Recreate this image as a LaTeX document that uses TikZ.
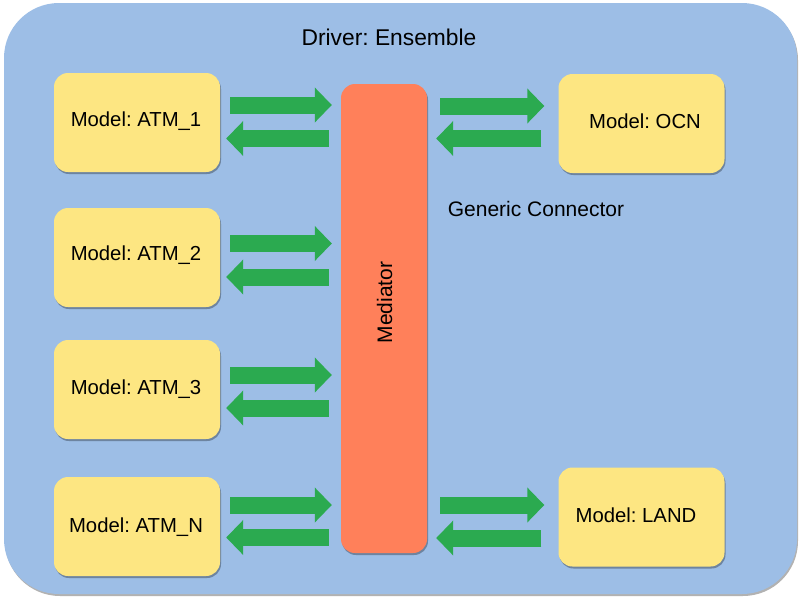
\documentclass[tikz,border=0pt]{standalone}
\usepackage{fontspec}
\setmainfont{Liberation Sans}
\usetikzlibrary{arrows.meta,shadows,calc}
\definecolor{bgblue}{RGB}{157,190,230}
\definecolor{boxyellow}{RGB}{253,230,130}
\definecolor{medorange}{RGB}{255,128,90}
\definecolor{arrgreen}{RGB}{43,170,80}
\frenchspacing
\tikzset{
  shadowed/.style={drop shadow={opacity=0.3, shadow xshift=1pt, shadow yshift=-2pt, fill=black}},
  framebox/.style={fill=bgblue, rounded corners=55pt, minimum width=793pt, minimum height=591pt, inner sep=0pt, shadowed},
  modelbox/.style={fill=boxyellow, rounded corners=14pt, minimum width=166pt, minimum height=99pt, inner sep=0pt, shadowed},
  medbox/.style={fill=medorange, rounded corners=14pt, minimum width=86pt, minimum height=469pt, inner sep=0pt, shadowed},
  lbl/.style={inner sep=0pt, anchor=base, font=\fontsize{20.3pt}{24pt}\selectfont},
  fwd/.style={draw=arrgreen, line width=17pt, -{Triangle[length=17pt,width=34pt]}}
}
\begin{document}
\begin{tikzpicture}[x=1pt,y=-1pt]
\useasboundingbox (0,0) rectangle (800,600);
\node[framebox] (driver) at (400.5,298.5) {};
\node[lbl, font=\fontsize{22.8pt}{26pt}\selectfont] (drvlbl) at (389,45) {Driver: Ensemble};
\node[lbl, font=\fontsize{21pt}{25pt}\selectfont] (genlbl) at (536,216) {Generic Connector};

\node[modelbox] (a1) at (137,122.5) {};
\node[modelbox] (a2) at (137,257.5) {};
\node[modelbox] (a3) at (137,389.5) {};
\node[modelbox] (aN) at (137,526.5) {};
\node[modelbox] (ocn) at (641.5,123.5) {};
\node[modelbox] (land) at (641.5,517) {};
\node[medbox] (med) at (384,318.5) {};

\node[lbl] (t1) at (136,126) {Model: ATM\_1};
\node[lbl] (t2) at (136,260) {Model: ATM\_2};
\node[lbl] (t3) at (136,394) {Model: ATM\_3};
\node[lbl] (tN) at (136,532.5) {Model: ATM\_N};
\node[lbl] (tO) at (645,128) {Model: OCN};
\node[lbl] (tL) at (636,522) {Model: LAND};
\node[lbl, font=\fontsize{21pt}{25pt}\selectfont, rotate=90] (medlbl) at (392,302.5) {Mediator};

\foreach \n/\r/\l in {a1/17.5/16, a2/14/19.5, a3/14.5/18.5, aN/21.5/11}{
  \path ($(\n.east)+(10,-\r)$) coordinate (s);
  \draw[fwd] (s) -- ($(s -| med.west)+(-9,0)$);
  \path ($(\n.east)+(6,\l)$) coordinate (e);
  \draw[fwd] ($(e -| med.west)+(-12,0)$) -- (e);
}
\foreach \n/\r/\l in {ocn/17.5/15, land/12/21}{
  \path ($(\n.west)+(-14,-\r)$) coordinate (e);
  \draw[fwd] ($(e -| med.east)+(13,0)$) -- (e);
  \path ($(\n.west)+(-17,\l)$) coordinate (s);
  \draw[fwd] (s) -- ($(s -| med.east)+(9,0)$);
}
\end{tikzpicture}
\end{document}
